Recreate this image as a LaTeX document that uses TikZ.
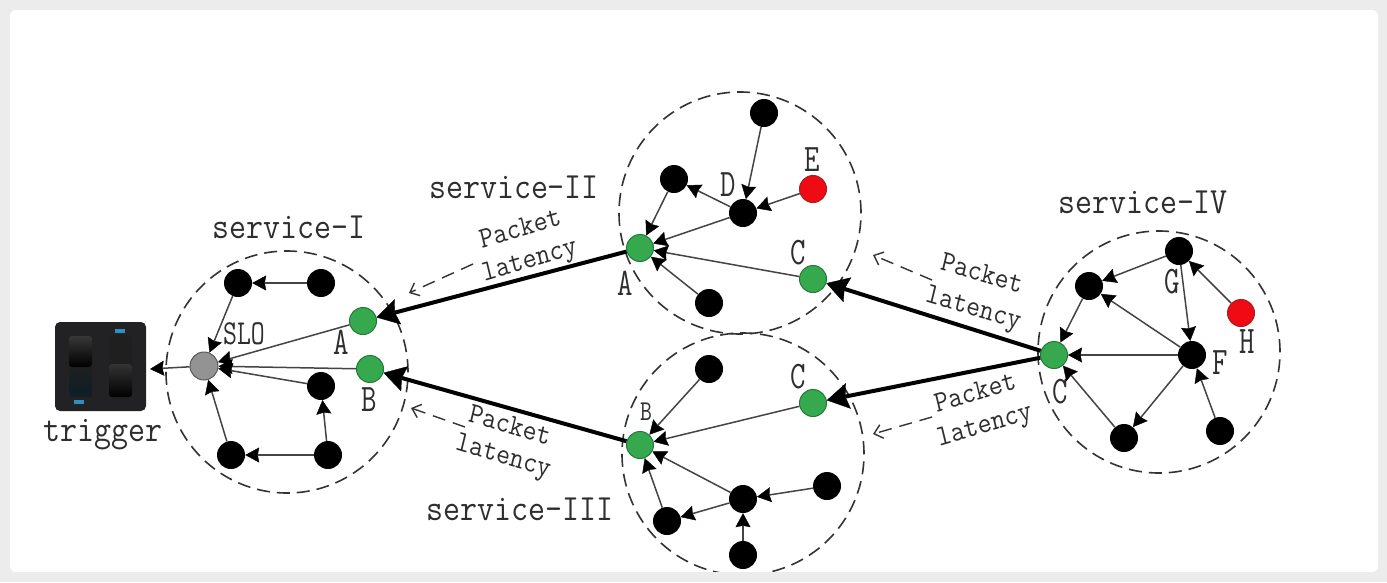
\documentclass[tikz,border=0pt]{standalone}
\usetikzlibrary{arrows.meta,shapes.geometric}
\definecolor{frameg}{HTML}{ECECEC}
\definecolor{edgeg}{HTML}{444444}
\definecolor{dashg}{HTML}{333333}
\definecolor{greenn}{HTML}{36A94F}
\definecolor{greenb}{HTML}{1F7A38}
\definecolor{redn}{HTML}{F00A14}
\definecolor{redb}{HTML}{A81C24}
\definecolor{txt}{HTML}{2E2E2E}
\definecolor{sw}{HTML}{222224}
\definecolor{swb}{HTML}{0F0F10}
\definecolor{blu}{HTML}{2E8FC0}
\definecolor{blud}{HTML}{0C1F28}
\tikzset{
  blacknode/.style={circle,fill=black,minimum size=28pt,inner sep=0pt},
  greennode/.style={circle,fill=greenn,draw=greenb,line width=1pt,minimum size=27pt,inner sep=0pt},
  rednode/.style={circle,fill=redn,draw=redb,line width=1pt,minimum size=27pt,inner sep=0pt},
  graynode/.style={circle,fill=gray!85,draw=gray!70!black,line width=1pt,minimum size=28pt,inner sep=0pt},
  ring/.style={circle,draw=dashg,line width=1.6pt,dash pattern=on 13pt off 7pt,minimum size=242pt,inner sep=0pt},
  thinedge/.style={draw=edgeg,line width=1.5pt,-{Stealth[length=14pt,width=15pt,inset=1.5pt,color=black,fill=black,line width=0.4pt]}},
  thickedge/.style={draw=black,line width=4pt,-{Stealth[length=22pt,width=26pt,inset=3pt,color=black,fill=black,line width=0.4pt]}},
  lagedge/.style={draw=dashg,line width=1.4pt,dash pattern=on 13pt off 8pt,-{Straight Barb[length=8pt,width=14pt]}},
  svc/.style={text=txt,font=\ttfamily\fontsize{33}{33}\selectfont,inner sep=0pt,yscale=1.12,transform shape},
  pkt/.style={text=txt,font=\ttfamily\fontsize{27}{27}\selectfont,inner sep=0pt,yscale=1.1,transform shape},
  slolabel/.style={text=txt,font=\ttfamily\fontsize{27}{27}\selectfont,inner sep=0pt,yscale=1.3,transform shape},
  letter/.style={text=txt,font=\ttfamily\fontsize{30}{30}\selectfont,inner sep=0pt,yscale=1.3,transform shape},
  smallletter/.style={text=txt,font=\ttfamily\fontsize{23}{23}\selectfont,inner sep=0pt,yscale=1.25,transform shape},
}
\begin{document}
\begin{tikzpicture}[x=1pt,y=-1pt]
\useasboundingbox (0,0) rectangle (1387,582);
\fill[frameg] (0,0) rectangle (1387,582);
\fill[white,rounded corners=6pt] (10,10) rectangle (1378,572);

% rings
\node[ring] (ringI) at (287,372) {};
\node[ring] (ringII) at (740,213) {};
\node[ring] (ringIII) at (743,454) {};
\node[ring] (ringIV) at (1159,352) {};

% trigger icon
\fill[sw,rounded corners=5pt] (55,322) rectangle (146,411);
\shade[top color=black!78,bottom color=black,rounded corners=3pt] (69,336) rectangle (92,367);
\shade[top color=black!88,bottom color=blud,rounded corners=3pt] (69,367) rectangle (92,397);
\fill[black!88,rounded corners=3pt] (109,335) rectangle (132,366);
\shade[top color=black!80,bottom color=black,rounded corners=3pt] (109,364) rectangle (132,397);
\fill[blu] (115,329) rectangle (125,333);
\fill[blu] (74,400) rectangle (84,404);
\coordinate (trigIn) at (150,369);

% service I
\node[blacknode] (a1) at (238,283) {};
\node[blacknode] (a2) at (321,283) {};
\node[greennode] (aA) at (363,321) {};
\node[greennode] (aB) at (370,369) {};
\node[graynode] (slo) at (204,366) {};
\node[blacknode] (a3) at (321,386) {};
\node[blacknode] (a4) at (231,455) {};
\node[blacknode] (a5) at (328,455) {};
\draw[thinedge] (a2) -- (a1);
\draw[thinedge] (a1) -- (slo);
\draw[thinedge] (aA) -- (slo);
\draw[thinedge] (aB) -- (slo);
\draw[thinedge] (a3) -- (slo);
\draw[thinedge] (a4) -- (slo);
\draw[thinedge] (a5) -- (a4);
\draw[thinedge] (a5) -- (a3);
\draw[thinedge] (slo) -- (trigIn);

% service II
\node[blacknode] (b1) at (764,113) {};
\node[blacknode] (b2) at (674,179) {};
\node[blacknode] (bD) at (743,213) {};
\node[rednode] (bE) at (813,189) {};
\node[greennode] (bA) at (640,248) {};
\node[greennode] (bC) at (813,279) {};
\node[blacknode] (b3) at (709,303) {};
\draw[thinedge] (b1) -- (bD);
\draw[thinedge] (bE) -- (bD);
\draw[thinedge] (bD) -- (b2);
\draw[thinedge] (b2) -- (bA);
\draw[thinedge] (bD) -- (bA);
\draw[thinedge] (bC) -- (bA);
\draw[thinedge] (b3) -- (bA);

% service III
\node[blacknode] (c1) at (709,369) {};
\node[greennode] (cC) at (813,403) {};
\node[greennode] (cB) at (640,445) {};
\node[blacknode] (c2) at (827,486) {};
\node[blacknode] (c3) at (743,499) {};
\node[blacknode] (c4) at (667,521) {};
\node[blacknode] (c5) at (743,555) {};
\draw[thinedge] (c1) -- (cB);
\draw[thinedge] (cC) -- (cB);
\draw[thinedge] (c3) -- (cB);
\draw[thinedge] (c4) -- (cB);
\draw[thinedge] (c3) -- (c4);
\draw[thinedge] (c2) -- (c3);
\draw[thinedge] (c5) -- (c3);

% service IV
\node[blacknode] (dG) at (1179,251) {};
\node[blacknode] (d1) at (1089,286) {};
\node[rednode] (dH) at (1241,313) {};
\node[blacknode] (dF) at (1192,355) {};
\node[greennode] (dC) at (1054,355) {};
\node[blacknode] (d2) at (1124,438) {};
\node[blacknode] (d3) at (1220,431) {};
\draw[thinedge] (dG) -- (d1);
\draw[thinedge] (dH) -- (dG);
\draw[thinedge] (dG) -- (dF);
\draw[thinedge] (dF) -- (d1);
\draw[thinedge] (d1) -- (dC);
\draw[thinedge] (dF) -- (dC);
\draw[thinedge] (d2) -- (dC);
\draw[thinedge] (dF) -- (d2);
\draw[thinedge] (d3) -- (dF);

% thick links
\draw[thickedge] (bA) -- (aA);
\draw[thickedge] (cB) -- (aB);
\draw[thickedge] (dC) -- (bC);
\draw[thickedge] (dC) -- (cC);

% dashed latency arrows
\coordinate (l1s) at (473,264); \coordinate (l1e) at (409,293);
\coordinate (l2s) at (465,427); \coordinate (l2e) at (411,408);
\coordinate (l3s) at (932,280); \coordinate (l3e) at (873,255);
\coordinate (l4s) at (932,417); \coordinate (l4e) at (873,434);
\draw[lagedge] (l1s) -- (l1e);
\draw[lagedge] (l2s) -- (l2e);
\draw[lagedge] (l3s) -- (l3e);
\draw[lagedge] (l4s) -- (l4e);

% labels
\node[svc] (tI) at (289,227) {service-I};
\node[svc] (tII) at (514,187) {service-II};
\node[svc] (tIII) at (520,509) {service-III};
\node[svc] (tIV) at (1143,202) {service-IV};
\node[svc] (tT) at (103,435) {trigger};

\node[pkt,rotate=15] (p1) at (520,228) {Packet};
\node[pkt,rotate=15] (q1) at (530,262) {latency};
\node[pkt,rotate=-15] (p2) at (510,425) {Packet};
\node[pkt,rotate=-15] (q2) at (503,458) {latency};
\node[pkt,rotate=-15] (p3) at (982,273) {Packet};
\node[pkt,rotate=-15] (q3) at (973,310) {latency};
\node[pkt,rotate=15] (p4) at (975,392) {Packet};
\node[pkt,rotate=15] (q4) at (985,427) {latency};

\node[slolabel] (lSLO) at (244,334) {SLO};
\node[letter] (lA1) at (341,342) {A};
\node[letter] (lB1) at (369,400) {B};
\node[letter] (lD) at (728,185) {D};
\node[letter] (lE) at (812,160) {E};
\node[letter] (lC2) at (798,253) {C};
\node[letter] (lA2) at (625,283) {A};
\node[smallletter] (lB3) at (646,412) {B};
\node[letter] (lC3) at (798,377) {C};
\node[letter] (lG) at (1172,282) {G};
\node[letter] (lF) at (1220,363) {F};
\node[letter] (lH) at (1247,342) {H};
\node[letter] (lC4) at (1060,392) {C};

% bottom frame over the clipped ring
\fill[frameg] (0,572) rectangle (1387,582);
\end{tikzpicture}
\end{document}
